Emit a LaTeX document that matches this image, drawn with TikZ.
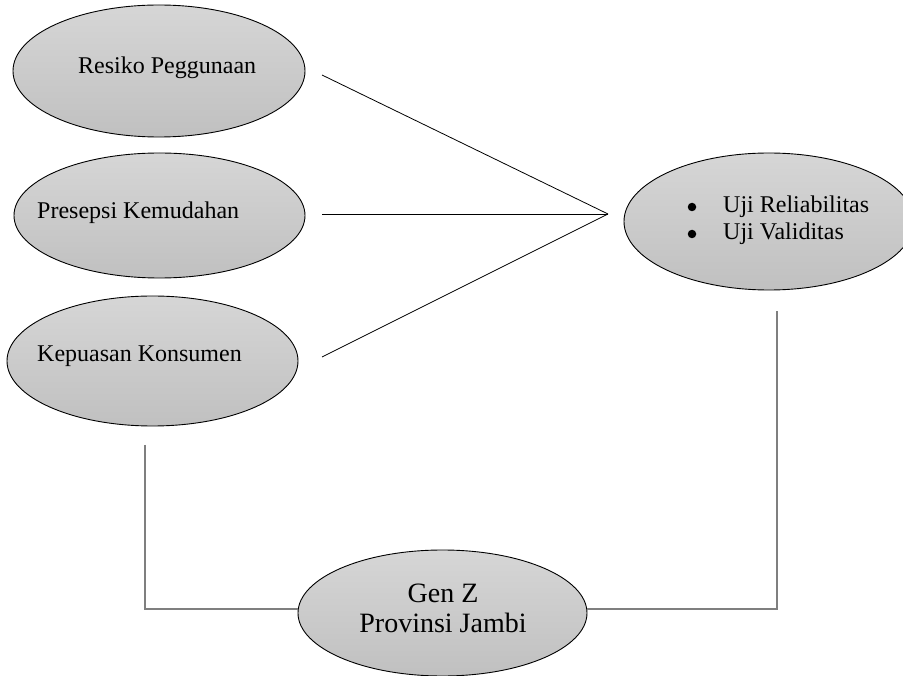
\documentclass[tikz,border=0pt]{standalone}
\usepackage{fontspec}
\setmainfont{Liberation Serif}
\usetikzlibrary{shapes.geometric,calc}
\definecolor{ovtop}{HTML}{D6D6D6}
\definecolor{ovbot}{HTML}{C0C0C0}
\definecolor{linegray}{HTML}{7F7F7F}
\begin{document}
\begin{tikzpicture}[x=1pt,y=-1pt,
  oval/.style={ellipse, draw=black, line width=0.9pt, top color=ovtop, bottom color=ovbot, inner sep=0pt},
  fan/.style={draw=black, line width=0.8pt},
  elbow/.style={draw=linegray, line width=1.5pt},
  lbl/.style={font=\fontsize{24}{28}\selectfont, inner sep=0pt, anchor=base west},
  dot/.style={circle, fill=black, inner sep=0pt, minimum size=8.5pt},
  big/.style={font=\fontsize{28}{32}\selectfont, inner sep=0pt, anchor=base}]
\clip (0,0) rectangle (903,676);
\fill[white] (0,0) rectangle (903,676);
% ovals
\node[oval, minimum width=292pt, minimum height=132pt] (e1) at (159,71) {};
\node[oval, minimum width=291pt, minimum height=125pt] (e2) at (159.5,215.5) {};
\node[oval, minimum width=291pt, minimum height=130pt] (e3) at (152.5,361) {};
\node[oval, minimum width=290pt, minimum height=137pt] (uji) at (769,221.5) {};
\node[oval, minimum width=289pt, minimum height=126pt] (gz) at (442.5,613) {};
% texts
\node[lbl] (t1) at (78,74) {Resiko Peggunaan};
\node[lbl] (t2) at (37,219) {Presepsi Kemudahan};
\node[lbl] (t3) at (37,362) {Kepuasan Konsumen};
\node[dot] (b1) at (692,207) {};
\node[lbl] (u1) at (723,213) {Uji Reliabilitas};
\node[dot] (b2) at (692,234) {};
\node[lbl] (u2) at (723,240) {Uji Validitas};
\node[big] (g1) at (443,602) {Gen Z};
\node[big] (g2) at (443,632) {Provinsi Jambi};
% connector points
\coordinate (s1) at (322,75);
\coordinate (s2) at (322,214);
\coordinate (s3) at (322,357);
\coordinate (m) at (608,214);
\coordinate (c3) at (145,445);
\coordinate (jL) at (145,609);
\coordinate (c4) at (777,311);
\coordinate (jR) at (777,609);
% connectors
\draw[fan] (s1) -- (m);
\draw[fan] (s2) -- (m);
\draw[fan] (s3) -- (m);
\draw[elbow] (c3) -- (jL) -- (jL -| gz.west);
\draw[elbow] (gz.east |- jR) -- (jR) -- (c4);
\end{tikzpicture}
\end{document}
